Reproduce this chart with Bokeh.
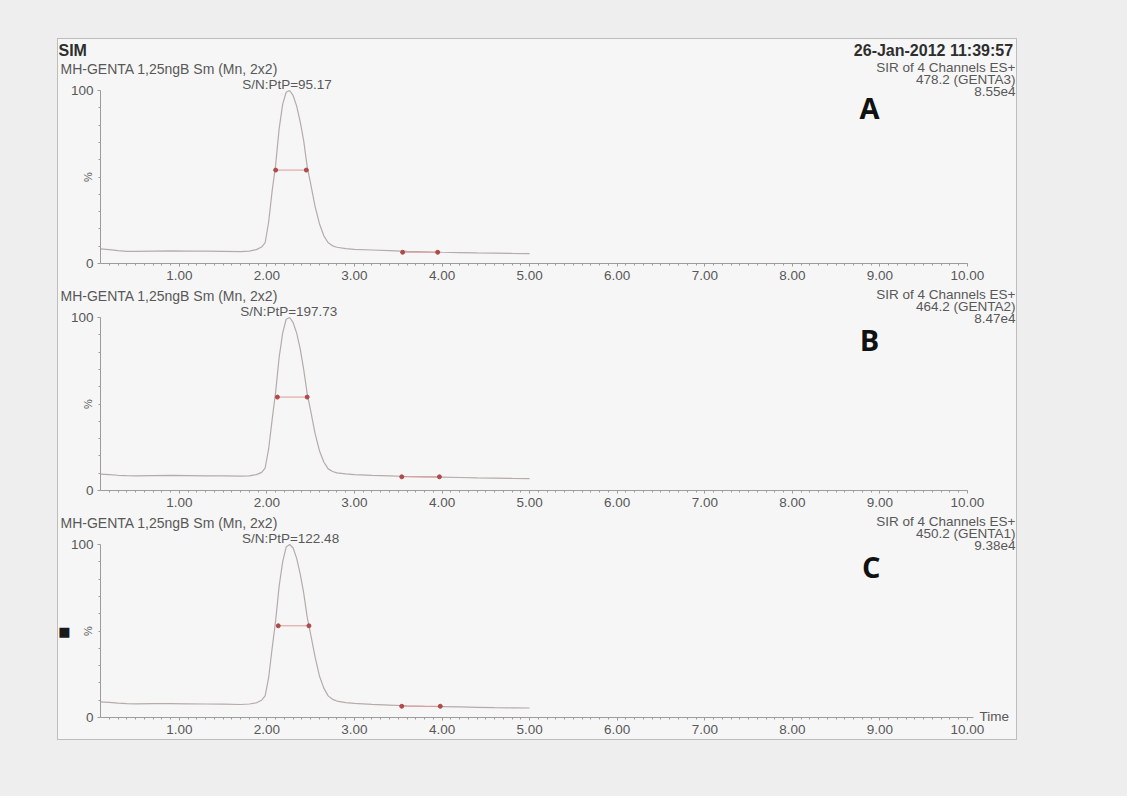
import math
from bokeh.plotting import figure
from bokeh.layouts import column
from bokeh.models import Range1d, SingleIntervalTicker, FixedTicker, NumeralTickFormatter, Label
from bokeh.embed import file_html
from bokeh.resources import INLINE

# ---------------- data ----------------
times = [0.10, 0.20, 0.30, 0.40, 0.50, 0.70, 0.90, 1.10, 1.30, 1.50, 1.70, 1.80,
         1.88, 1.94, 1.98, 2.02, 2.06, 2.10, 2.14, 2.18, 2.22, 2.26, 2.30, 2.34,
         2.38, 2.42, 2.46, 2.50, 2.55, 2.60, 2.65, 2.70, 2.75, 2.80, 2.90, 3.00,
         3.20, 3.40, 3.60, 3.80, 4.00, 4.20, 4.40, 4.60, 4.80, 5.00]

intensity_a = [8.5, 8.0, 7.4, 7.0, 7.0, 7.2, 7.3, 7.2, 7.1, 7.0, 6.9, 7.2,
               8.0, 9.5, 12.0, 24.0, 42.0, 57.0, 78.0, 92.0, 99.0, 100.0, 97.0, 91.0,
               82.0, 71.0, 56.0, 46.0, 33.0, 23.0, 16.0, 12.0, 10.2, 9.4, 8.6, 8.2,
               7.8, 7.4, 7.0, 6.8, 6.5, 6.3, 6.1, 6.0, 5.8, 5.7]
intensity_b = [9.5, 9.2, 8.8, 8.6, 8.5, 8.6, 8.7, 8.6, 8.5, 8.4, 8.3, 8.5,
               9.2, 10.5, 13.0, 24.0, 41.0, 57.0, 77.0, 91.0, 99.0, 100.0, 97.0, 91.0,
               82.0, 70.0, 56.0, 46.0, 33.0, 23.0, 16.5, 12.5, 11.0, 10.2, 9.6, 9.2,
               8.8, 8.5, 8.1, 7.9, 7.7, 7.5, 7.3, 7.2, 7.0, 6.9]
intensity_c = [9.0, 8.7, 8.3, 8.0, 7.9, 8.0, 8.0, 7.9, 7.8, 7.7, 7.5, 7.8,
               8.5, 10.0, 12.5, 23.0, 40.0, 56.0, 76.0, 90.0, 98.5, 100.0, 98.0, 92.0,
               83.0, 72.0, 58.0, 48.0, 35.0, 24.0, 17.0, 12.5, 10.5, 9.5, 8.6, 8.2,
               7.6, 7.2, 6.8, 6.5, 6.3, 6.1, 5.9, 5.7, 5.6, 5.5]

width_x_a = [2.10, 2.45]; width_y_a = [54, 54]
noise_x_a = [3.55, 3.95]; noise_y_a = [6.5, 6.5]
width_x_b = [2.12, 2.46]; width_y_b = [54, 54]
noise_x_b = [3.54, 3.97]; noise_y_b = [7.9, 7.9]
width_x_c = [2.13, 2.48]; width_y_c = [53, 53]
noise_x_c = [3.54, 3.98]; noise_y_c = [6.5, 6.5]

sample_names = ["MH-GENTA 1,25ngB Sm (Mn, 2x2)"] * 3
sn_labels = ["S/N:PtP=95.17", "S/N:PtP=197.73", "S/N:PtP=122.48"]
sn_times = [2.23, 2.25, 2.27]
channel_names = ["478.2 (GENTA3)", "464.2 (GENTA2)", "450.2 (GENTA1)"]
max_counts = ["8.55e4", "8.47e4", "9.38e4"]
panel_letters = ["A", "B", "C"]
letter_times = [8.88, 8.88, 8.90]
scan_mode = "SIR of 4 Channels ES+"
page_title = "SIM"
run_stamp = "26-Jan-2012  11:39:57"
x_label = "Time"
y_label = "%"
t_start, t_end = 0.1, 10.0
pct_start, pct_end = 0, 100

# ---------------- layout / styling ----------------
SHEET = "#f6f6f6"
TEXT = "#585858"
DARK = "#2e2e2e"
AXIS = "#9c9c9c"
TRACE = "#b6abab"
MARK = "#b04a4a"
MARKLINE = "#dc9a9a"
FONT = "Liberation Sans"

FIG_W = 958            # inner width of the framed sheet
PLOT_L, PLOT_R = 42, 909   # pixel position of t_start / t_end inside a panel
PLOT_H = 173               # pixel height of 0..100 %


def lab(p, x, y, text, xo=0, yo=0, align="left", size="14px", color=TEXT,
        style="normal", font=FONT, angle=0.0):
    p.add_layout(Label(x=x, y=y, x_offset=xo, y_offset=yo, text=text,
                       text_align=align, text_baseline="middle",
                       text_font_size=size, text_color=color,
                       text_font_style=style, text_font=font, angle=angle))


def make_panel(i, intens, wx, wy, nx, ny, height, top, last=False):
    xs = (t_end - t_start) / (PLOT_R - PLOT_L)
    ys = (pct_end - pct_start) / PLOT_H
    bottom = height - top - PLOT_H
    xr = Range1d(t_start - PLOT_L * xs, t_start + (FIG_W - PLOT_L) * xs)
    yr = Range1d(pct_start - bottom * ys, pct_end + top * ys)
    p = figure(width=FIG_W, height=height, x_range=xr, y_range=yr,
               output_backend="svg", toolbar_location=None,
               min_border=0,
               background_fill_color=SHEET, border_fill_color=SHEET,
               outline_line_color=None)
    p.grid.visible = False

    xa = p.xaxis[0]
    xa.ticker = SingleIntervalTicker(interval=1, num_minor_ticks=10)
    xa.formatter = NumeralTickFormatter(format="0.00")
    xa.fixed_location = pct_start
    xa.bounds = (t_start, t_end + (0.07 if last else 0.0))
    ya = p.yaxis[0]
    ya.ticker = FixedTicker(ticks=[0, 100], minor_ticks=[10, 20, 30, 40, 50, 60, 70, 80, 90])
    ya.fixed_location = t_start
    ya.bounds = (pct_start, pct_end)
    for ax in (xa, ya):
        ax.axis_line_color = AXIS
        ax.major_tick_line_color = AXIS
        ax.minor_tick_line_color = AXIS
        ax.major_tick_in = 0
        ax.major_tick_out = 3
        ax.minor_tick_in = 0
        ax.minor_tick_out = 2
        ax.major_label_text_font = FONT
        ax.major_label_text_font_size = "13.5px"
        ax.major_label_text_color = TEXT
        ax.major_label_standoff = 4

    p.line(times, intens, line_color=TRACE, line_width=1.2)
    p.line(wx, wy, line_color=MARKLINE, line_width=1)
    p.line(nx, ny, line_color=MARKLINE, line_width=1)
    p.scatter(wx, wy, size=4, color=MARK)
    p.scatter(nx, ny, size=4, color=MARK)

    # header texts
    if i == 0:
        lab(p, t_start, 100, page_title, xo=-42, yo=40, size="16px", color=DARK, style="bold")
        lab(p, t_end, 100, run_stamp, xo=50, yo=40, align="right", size="16px",
            color=DARK, style="bold")
    lab(p, t_start, 100, sample_names[i], xo=-40, yo=22)
    lab(p, sn_times[i], 100, sn_labels[i], yo=6, align="center", size="13.5px")
    lab(p, t_end, 100, scan_mode, xo=48, yo=23.5, align="right", size="13.5px")
    lab(p, t_end, 100, channel_names[i], xo=48, yo=11.5, align="right", size="13.5px")
    lab(p, t_end, 100, max_counts[i], xo=48, yo=-0.5, align="right", size="13.5px")
    lab(p, letter_times[i], 100, panel_letters[i], yo=(-17 if i == 0 else -22),
        align="center", size="29px", color="#111111", style="bold", font="Open Sans")
    lab(p, t_start, 50, y_label, xo=-13, align="center", size="11px", angle=math.pi / 2)
    if last:
        lab(p, t_end, 0, x_label, xo=12, yo=1, size="13.5px")
        lab(p, t_start, 49.7, "\u25a0", xo=-36, align="center", size="13px",
            color="#1a1a1a", font="DejaVu Sans")
    return p


pa = make_panel(0, intensity_a, width_x_a, width_y_a, noise_x_a, noise_y_a, 247, 51)
pb = make_panel(1, intensity_b, width_x_b, width_y_b, noise_x_b, noise_y_b, 227, 31)
pc = make_panel(2, intensity_c, width_x_c, width_y_c, noise_x_c, noise_y_c, 226, 31, last=True)

inner = column(pa, pb, pc, margin=(38, 0, 0, 57),
               styles={"border": "1px solid #bdbdbd", "background-color": SHEET})
page = column(inner, width=1127, height=796, styles={"background-color": "#eeeeee"})

open("out.html", "w").write(file_html(page, INLINE))
